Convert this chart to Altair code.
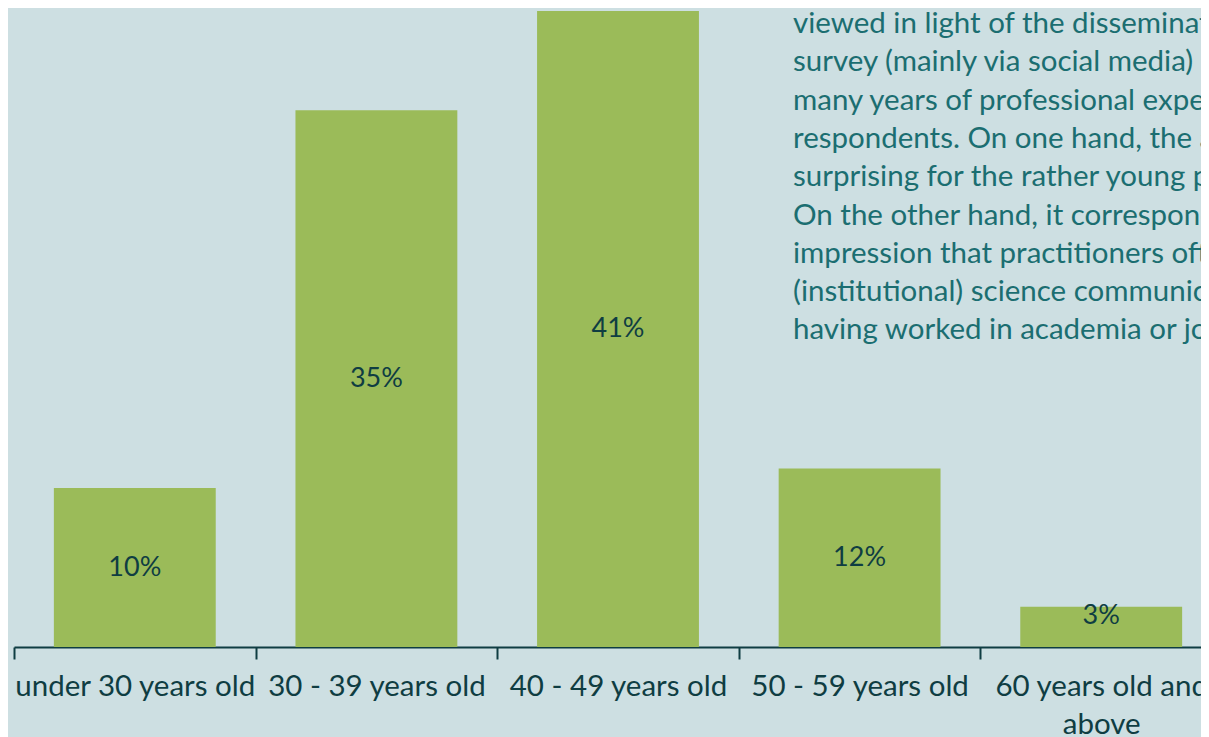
import altair as alt
import pandas as pd

categories = ["under 30 years old", "30 - 39 years old", "40 - 49 years old",
              "50 - 59 years old", "60 years old and above"]
shares = [10.25, 34.6, 41.0, 11.5, 2.6]

note_lines = [
    "viewed in light of the disseminat",
    "survey (mainly via social media)",
    "many years of professional expe",
    "respondents. On one hand, the a",
    "surprising for the rather young p",
    "On the other hand, it correspond",
    "impression that practitioners oft",
    "(institutional) science communic",
    "having worked in academia or jo",
]

df = pd.DataFrame({"cat": categories, "share": shares})

BG = "#cddfe2"
BAR = "#9bbb59"
DARK = "#0f3d42"
TEAL = "#1b6e71"
FONT = "Lato"

x = alt.X("cat:N", sort=categories, title=None,
          scale=alt.Scale(paddingInner=0, paddingOuter=0, range=[0, 1208]),
          axis=alt.Axis(tickBand="extent", tickSize=12, tickColor=DARK, tickWidth=2,
                        domainColor=DARK, domainWidth=2, labelAngle=0,
                        labelFont=FONT, labelFontSize=29.5, labelColor=DARK,
                        labelPadding=13, labelLineHeight=38, labelLimit=400,
                        labelExpr="datum.label == '60 years old and above' ? ['60 years old and', 'above'] : datum.label"))
y = alt.Y("share:Q", title=None, scale=alt.Scale(domain=[0, 41], nice=False, zero=True),
          axis=None)

bars = alt.Chart(df).mark_bar(color=BAR, width={"band": 0.67}).encode(x=x, y=y)

labels = alt.Chart(df).transform_calculate(
    ymid="max(datum.share / 2, 2.0)",
    lab="format(datum.share, '.0f') + '%'"
).mark_text(font=FONT, fontSize=27, color=DARK, baseline="middle").encode(
    x=alt.X("cat:N", sort=categories), y=alt.Y("ymid:Q"), text="lab:N")

note = alt.Chart(pd.DataFrame({"t": ["\n".join(note_lines)]})).mark_text(
    font=FONT, fontSize=29.5, color=TEAL, align="left", baseline="alphabetic",
    lineBreak="\n", lineHeight=38.3
).encode(x=alt.value(779), y=alt.value(22), text="t:N")

chart = alt.layer(bars, labels, note).properties(
    width=1187, height=636,
    autosize=alt.AutoSizeParams(type="none"),
    padding={"left": 6, "top": 3, "right": 0, "bottom": 100},
    background=BG,
).configure_view(stroke=None)

chart.save("out.html", embed_options={"renderer": "svg", "actions": False})
